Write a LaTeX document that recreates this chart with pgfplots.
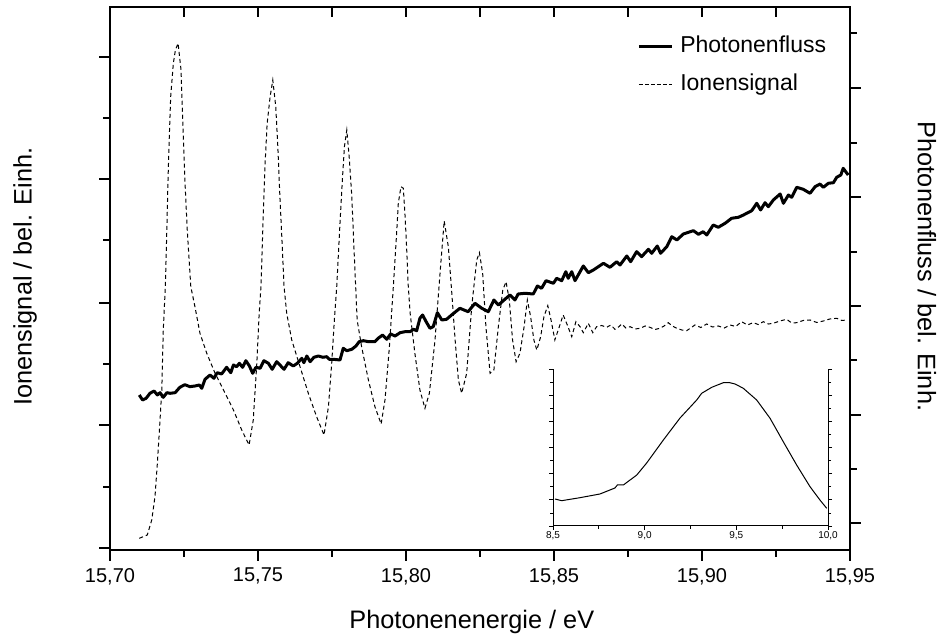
\documentclass[border=0pt]{standalone}
\usepackage{fontspec}
\setmainfont{Liberation Sans}
\usepackage{pgfplots}
\pgfplotsset{compat=1.18}

\pgfplotsset{
  mybase/.style={
    at={(0pt,0pt)}, anchor=south west,
    width=370pt, height=271.5pt, scale only axis,
    xmin=15.70, xmax=15.95, ymin=0, ymax=543,
    axis line style={line width=1.25pt, -},
    tick style={line width=1pt, black},
    /pgf/number format/assume math mode=true,
  }
}

\begin{document}
\begin{tikzpicture}
% ---------------- main axis: Ionensignal (left) ----------------
\begin{axis}[mybase,
  xtick pos=bottom, ytick pos=left,
  tick align=outside, major tick length=5.5pt, minor tick length=3.5pt,
  xtick={15.70,15.75,15.80,15.85,15.90,15.95},
  minor xtick={15.725,15.775,15.825,15.875,15.925},
  xticklabel style={font=\fontsize{10}{12}\selectfont,
    /pgf/number format/.cd, fixed, fixed zerofill, precision=2, use comma},
  ytick={2,125,247,371,493}, yticklabels={},
  extra y ticks={63,186,310,432}, extra y tick labels={},
  extra y tick style={major tick length=3.5pt},
  xlabel={Photonenenergie / eV},
  ylabel={Ionensignal / bel. Einh.},
  label style={font=\fontsize{12.65}{15}\selectfont},
  xlabel style={at={(axis description cs:0.489,-0.1326)}, anchor=center},
  ylabel style={at={(axis description cs:-0.1149,0.5037)}, anchor=center},
]
\addplot[black, line width=0.5pt, dash pattern=on 2pt off 1.5pt] coordinates {
(15.7099,11.7)(15.7126,15)(15.7141,30)(15.7152,53.3)(15.7160,86.7)(15.7167,120)(15.7175,160)(15.7180,220)(15.7187,263.3)(15.7192,320)(15.7196,370)(15.7200,410)(15.7205,453.3)(15.7214,486.7)(15.7221,500)(15.7230,506.7)(15.7240,480)(15.7246,426.7)(15.7253,370)(15.7261,320)(15.7273,263.3)(15.7287,243.3)(15.7304,216.7)(15.7327,196.7)(15.7355,176.7)(15.7389,156.7)(15.7417,140)(15.7445,120)(15.7470,105)(15.7484,130)(15.7496,186.7)(15.7504,236.7)(15.7510,263.3)(15.7518,336.7)(15.7524,386.7)(15.7531,426.7)(15.7541,453.3)(15.7550,470)(15.7560,443.3)(15.7567,403.3)(15.7574,353.3)(15.7582,303.3)(15.7588,263.3)(15.7597,236.7)(15.7614,210)(15.7642,183.3)(15.7670,156.7)(15.7698,133.3)(15.7723,115)(15.7738,143.3)(15.7749,186.7)(15.7758,230)(15.7766,263.3)(15.7777,326.7)(15.7785,370)(15.7792,403.3)(15.7800,420)(15.7808,393.3)(15.7817,353.3)(15.7824,303.3)(15.7830,263.3)(15.7835,230)(15.7850,203.3)(15.7873,170)(15.7895,143.3)(15.7916,126)(15.7929,150)(15.7944,203.3)(15.7958,267)(15.7969,320)(15.7974,346.7)(15.7983,363.3)(15.7991,361.7)(15.7997,333.3)(15.8002,303.3)(15.8007,267)(15.8014,236.7)(15.8030,196.7)(15.8047,160)(15.8064,141.7)(15.8079,156.7)(15.8098,210)(15.8115,276.7)(15.8129,329)(15.8143,303.3)(15.8154,260)(15.8166,210)(15.8177,170)(15.8188,156.7)(15.8205,176.7)(15.8222,243.3)(15.8239,290)(15.8248,297.3)(15.8259,276.7)(15.8270,223.3)(15.8284,176.7)(15.8297,180)(15.8312,223.3)(15.8327,260)(15.8338,268.3)(15.8349,250)(15.8360,210)(15.8372,188.3)(15.8385,196.7)(15.8399,223.3)(15.8410,250)(15.8421,233.3)(15.8432,210)(15.8442,200)(15.8455,213.3)(15.8466,233.3)(15.8479,244.3)(15.8490,230)(15.8503,210)(15.8518,223.3)(15.8531,235)(15.8545,225)(15.8560,213.3)(15.8574,228.3)(15.8588,223.3)(15.8599,217.3)(15.8616,226.7)(15.8631,217.3)(15.8644,223.3)(15.8661,224.5)(15.8678,222.7)(15.8692,225)(15.8706,220.7)(15.8718,223)(15.8729,226)(15.8743,222)(15.8757,223.3)(15.8774,221)(15.8791,221.7)(15.8808,224)(15.8824,222.7)(15.8841,220.5)(15.8858,221.7)(15.8872,224)(15.8886,227.3)(15.8900,224)(15.8915,221.7)(15.8932,220)(15.8948,219.3)(15.8962,222)(15.8976,225)(15.8996,222.5)(15.9016,226)(15.9035,223)(15.9055,224)(15.9075,222)(15.9095,225)(15.9114,223.5)(15.9134,228.3)(15.9153,225)(15.9173,227.3)(15.9190,225.5)(15.9207,228.3)(15.9224,226)(15.9241,226.7)(15.9263,229)(15.9286,230.7)(15.9303,227)(15.9320,227.3)(15.9342,229.5)(15.9365,230)(15.9388,227.5)(15.9410,229)(15.9432,231)(15.9455,231.7)(15.9472,229.5)(15.9489,230)
};
\end{axis}

% ---------------- right axis: Photonenfluss ----------------
\begin{axis}[mybase,
  axis x line=none, axis y line*=right,
  tick align=outside, major tick length=5.5pt, minor tick length=3.5pt,
  ytick={27,135,244,353,462}, yticklabels={},
  minor ytick={81,190,298,407,517},
  ylabel={Photonenfluss / bel. Einh.},
  label style={font=\fontsize{12.65}{15}\selectfont},
  ylabel style={at={(axis description cs:1.104,0.522)}, anchor=center, rotate=180},
  legend style={draw=none, fill=none, inner sep=0pt,
    at={(axis description cs:0.712,0.949)}, anchor=north west,
    font=\fontsize{11.5}{13}\selectfont, row sep=8pt,
    nodes={inner ysep=0pt, inner xsep=1pt, text height=8.5pt, text depth=2.5pt}},
  legend cell align=left,
  legend image code/.code={\draw[#1] (0pt,0pt) -- (16.5pt,0pt); \path (19pt,0pt);},
]
\addplot[black, line width=1.5pt, line join=round] coordinates {
(15.7099,155)(15.7110,150)(15.7122,151.7)(15.7135,156.7)(15.7149,159)(15.7160,155)(15.7169,157.3)(15.7180,152.7)(15.7192,157.3)(15.7203,156.7)(15.7220,157.3)(15.7236,162.7)(15.7253,165.3)(15.7270,163.3)(15.7287,164)(15.7302,165)(15.7310,161.7)(15.7321,170.7)(15.7338,175)(15.7351,171.7)(15.7362,177.3)(15.7377,176)(15.7394,182.7)(15.7408,177.3)(15.7417,185)(15.7428,183.3)(15.7437,186.7)(15.7448,182.7)(15.7459,189.3)(15.7471,184)(15.7482,176.7)(15.7493,182.7)(15.7507,181.7)(15.7520,189.3)(15.7535,186.7)(15.7548,180.7)(15.7563,188.3)(15.7574,185)(15.7588,180.7)(15.7602,187.3)(15.7619,184)(15.7633,186.7)(15.7648,191.7)(15.7655,187.3)(15.7665,194)(15.7676,188.3)(15.7689,192.7)(15.7704,194)(15.7719,192.7)(15.7732,193.3)(15.7741,190.7)(15.7754,190.7)(15.7777,190)(15.7788,201.7)(15.7800,199.3)(15.7817,200.7)(15.7831,204)(15.7842,208.3)(15.7856,209.3)(15.7873,208.3)(15.7895,208.3)(15.7906,211.7)(15.7921,215)(15.7935,210.7)(15.7948,216)(15.7963,214)(15.7980,217.3)(15.7997,218.3)(15.8014,218.3)(15.8025,220.7)(15.8036,219.3)(15.8047,231.7)(15.8056,235)(15.8068,228.3)(15.8081,221.7)(15.8092,223.3)(15.8106,237.3)(15.8121,230)(15.8137,230.7)(15.8154,235)(15.8182,241.7)(15.8210,238.3)(15.8233,246.7)(15.8256,241.7)(15.8278,238.3)(15.8297,250)(15.8312,245)(15.8338,251.7)(15.8351,255)(15.8368,250)(15.8379,256)(15.8402,256.7)(15.8430,256)(15.8444,264)(15.8458,261.7)(15.8473,269.3)(15.8498,266.7)(15.8509,271.7)(15.8526,269.3)(15.8540,278.3)(15.8548,271.7)(15.8560,278.3)(15.8571,269.3)(15.8599,284)(15.8616,277.3)(15.8633,280)(15.8667,286.7)(15.8689,282.7)(15.8712,288.3)(15.8723,285)(15.8746,294)(15.8759,288.3)(15.8779,298.3)(15.8796,293.3)(15.8819,300.7)(15.8830,296.7)(15.8849,304)(15.8860,296.7)(15.8881,303.3)(15.8898,313.3)(15.8915,310)(15.8937,316)(15.8971,319.3)(15.8988,315.7)(15.9004,318.3)(15.9016,315)(15.9038,325)(15.9055,322.7)(15.9078,326.7)(15.9100,331.7)(15.9123,332.7)(15.9140,335)(15.9168,339.3)(15.9185,346.7)(15.9198,340)(15.9213,347.3)(15.9224,343.3)(15.9241,350)(15.9264,356)(15.9275,346.7)(15.9292,355)(15.9303,352.7)(15.9320,362.7)(15.9342,360.7)(15.9365,356.7)(15.9382,363.3)(15.9399,366)(15.9410,362.7)(15.9427,366.7)(15.9444,367.3)(15.9455,372.7)(15.9469,375)(15.9477,381.7)(15.9494,375)
};
\addlegendentry{Photonenfluss}
\addlegendimage{black, line width=0.5pt, dash pattern=on 2pt off 1pt}
\addlegendentry{Ionensignal}
\end{axis}

% ---------------- top ticks (inside) and small left ticks ----------------
\begin{axis}[mybase,
  axis x line*=top, axis y line*=left,
  tick align=inside, major tick length=5pt, minor tick length=1.5pt,
  xtick={15.70,15.725,15.75,15.775,15.80,15.825,15.85,15.875,15.90,15.925,15.95},
  xticklabels={},
  ytick=\empty,
  minor ytick={32.5,94,155.5,216.5,278.5,340.5,401.5,462.5,524},
]
\addplot[draw=none] coordinates {(15.8,100)};
\end{axis}

% ---------------- inset ----------------
\begin{axis}[at={(221.5pt,12pt)}, anchor=south west,
  width=137.5pt, height=78.5pt, scale only axis,
  xmin=8.5, xmax=10, ymin=0, ymax=157,
  axis x line*=bottom, axis y line*=left,
  axis line style={line width=0.5pt, -},
  tick style={line width=0.4pt, black},
  tick align=outside, major tick length=2pt, minor tick length=1.5pt,
  xtick={8.5,9,9.5,10}, minor xtick={8.75,9.25,9.75},
  ytick={0,26.17,52.33,78.5,104.67,130.83,157}, yticklabels={},
  minor ytick={13.08,39.25,65.42,91.58,117.75,143.92},
  /pgf/number format/assume math mode=true,
  xticklabel style={font=\fontsize{5}{6}\selectfont, inner sep=0.8pt,
    /pgf/number format/.cd, fixed, fixed zerofill, precision=1, use comma},
]
\addplot[black, line width=0.5pt] coordinates {
(8.511,27)(8.547,25.3)(8.647,28.3)(8.756,32)(8.838,38)(8.851,41)(8.884,41)(8.957,51)(9.011,63)(9.102,86)(9.193,108)(9.284,126)(9.311,132.7)(9.366,138.7)(9.429,143.3)(9.46,143.5)(9.493,142)(9.538,137.7)(9.611,126)(9.684,107.7)(9.756,84.3)(9.829,61)(9.902,39.3)(9.956,26)(9.993,17.7)
};
\end{axis}
\begin{axis}[at={(221.5pt,12pt)}, anchor=south west,
  width=137.5pt, height=78.5pt, scale only axis,
  xmin=8.5, xmax=10, ymin=0, ymax=157,
  axis x line=none, axis y line*=right,
  axis line style={line width=0.5pt, -},
  tick style={line width=0.4pt, black},
  tick align=outside, major tick length=2pt, minor tick length=1.5pt,
  ytick={0,26.17,52.33,78.5,104.67,130.83,157}, yticklabels={},
  minor ytick={13.08,39.25,65.42,91.58,117.75,143.92},
]
\addplot[draw=none] coordinates {(9,50)};
\end{axis}

\pgfresetboundingbox
\path[use as bounding box] (-55pt,-43pt) rectangle (414pt,275pt);
\end{tikzpicture}
\end{document}
